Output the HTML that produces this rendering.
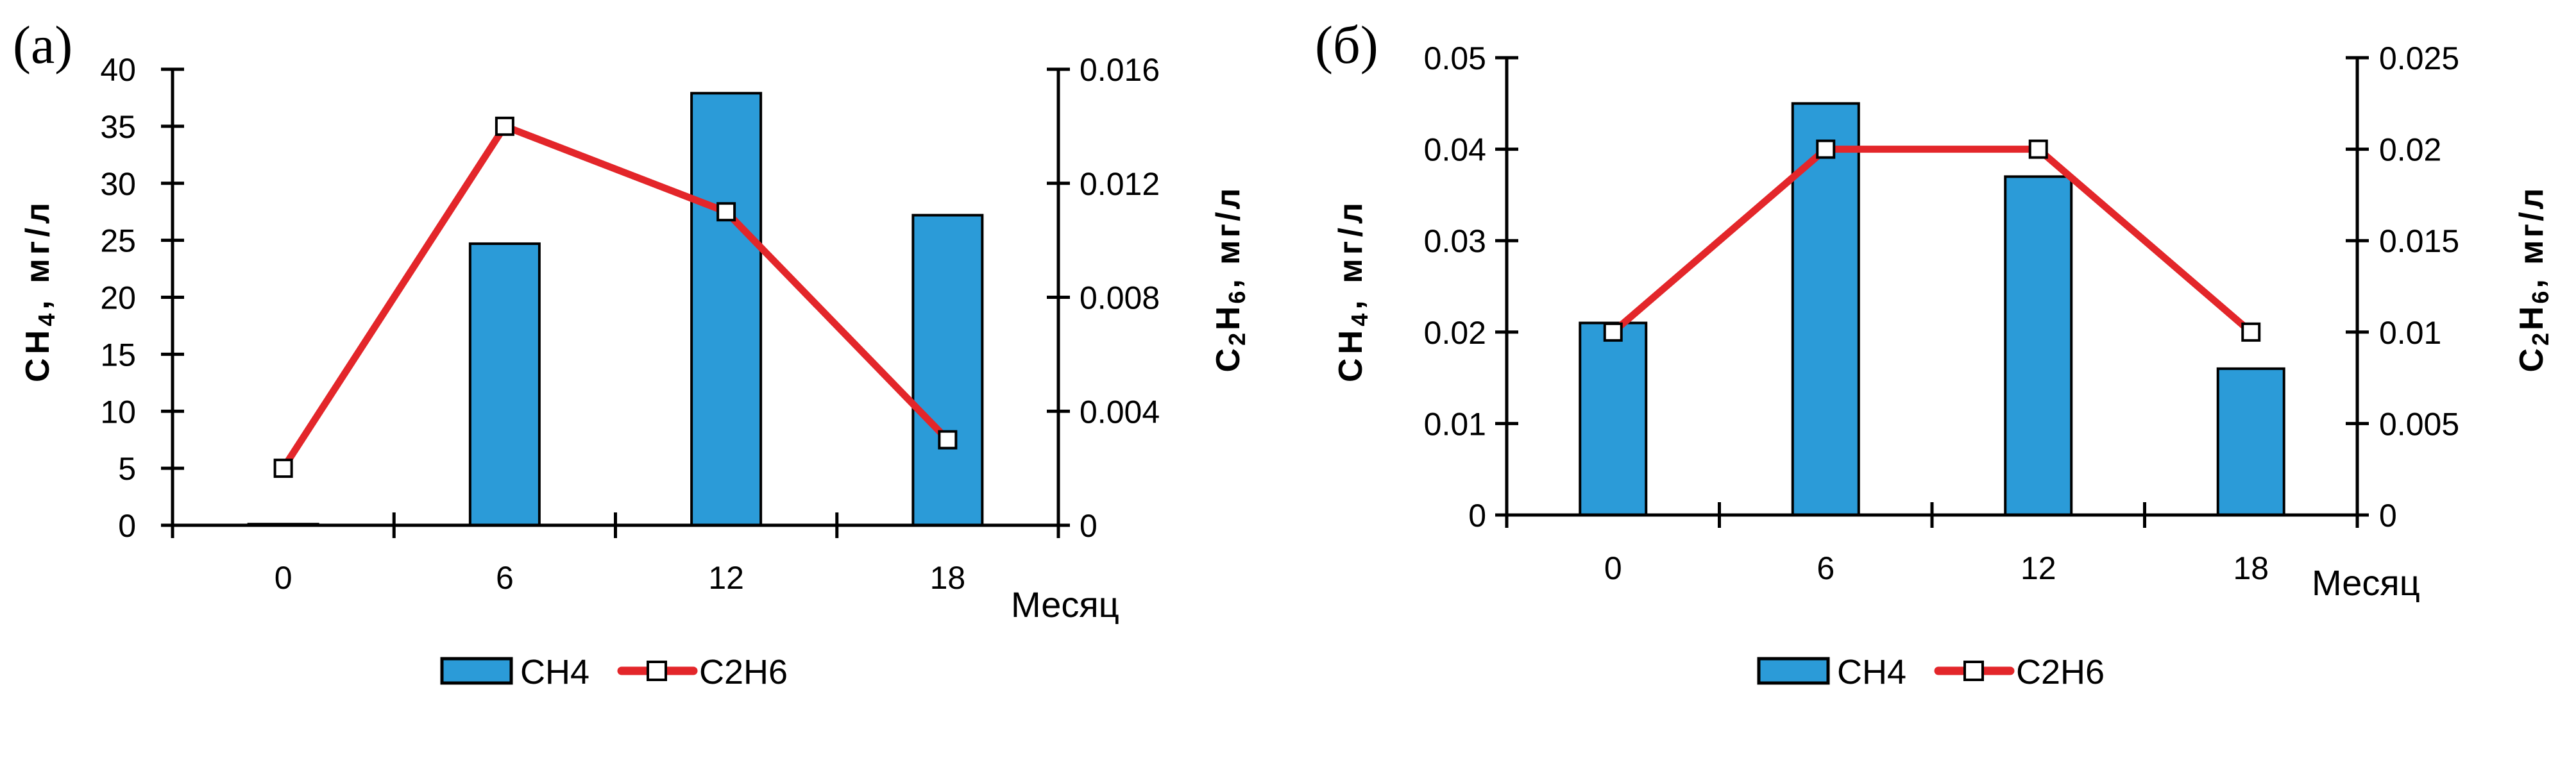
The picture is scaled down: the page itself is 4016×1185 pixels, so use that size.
<!DOCTYPE html>
<html><head><meta charset="utf-8">
<style>
html,body{margin:0;padding:0;background:#fff;}
svg{display:block;}
text{font-family:"Liberation Sans",sans-serif;fill:#000;}
</style></head>
<body>
<svg id="chart" width="4016" height="1185" viewBox="0 0 4016 1185" xmlns="http://www.w3.org/2000/svg"></svg>
<script>
const categories = ["0","6","12","18"];
const ch4A = [0.1, 24.7, 37.9, 27.2];
const c2h6A = [0.002, 0.014, 0.011, 0.003];
const leftTicksA = ["0","5","10","15","20","25","30","35","40"];
const rightTicksA = ["0","0.004","0.008","0.012","0.016"];
const ch4B = [0.021, 0.045, 0.037, 0.016];
const c2h6B = [0.01, 0.02, 0.02, 0.01];
const leftTicksB = ["0","0.01","0.02","0.03","0.04","0.05"];
const rightTicksB = ["0","0.005","0.01","0.015","0.02","0.025"];

const NS = "http://www.w3.org/2000/svg";
const svg = document.getElementById("chart");
function mk(tag, attrs, parent, txt){
  const e = document.createElementNS(NS, tag);
  for (const k in attrs) e.setAttribute(k, attrs[k]);
  if (txt !== undefined) e.textContent = txt;
  (parent||svg).appendChild(e);
  return e;
}

function drawChart(cfg){
  const g = mk("g", {});
  
  
  const {x0,x1,yTop,yBot} = cfg;
  const n = categories.length;
  const band = (x1-x0)/n;
  const xc = i => x0 + band*(i+0.5);
  const yL = v => yBot - (v/cfg.lMax)*(yBot-yTop);
  const yR = v => yBot - (v/cfg.rMax)*(yBot-yTop);

  const pl = mk("text",{x:cfg.labelX,y:98,"font-size":84,style:"font-family:'Liberation Serif',serif"},g,cfg.label);
  
  

  cfg.bars.forEach((v,i)=>{
    const h = yBot - yL(v);
    const b = mk("rect",{x:xc(i)-cfg.barW/2,y:yL(v),width:cfg.barW,height:Math.max(h,1.5),fill:"#2b9bd8",stroke:"#000","stroke-width":4},g);
    
    
  });

  const ax = mk("g",{stroke:"#000","stroke-width":5,fill:"none"},g);
  
  
  mk("line",{x1:x0,y1:yTop,x2:x0,y2:yBot},ax);
  mk("line",{x1:x1,y1:yTop,x2:x1,y2:yBot},ax);
  mk("line",{x1:x0,y1:yBot,x2:x1,y2:yBot},ax);
  for(let i=0;i<=n;i++){
    const x = x0+band*i;
    mk("line",{x1:x,y1:yBot-20,x2:x,y2:yBot+20},ax);
  }
  const lt = cfg.leftTicks;
  lt.forEach((t,i)=>{
    const y = yL(cfg.lMax*i/(lt.length-1));
    mk("line",{x1:x0-18,y1:y,x2:x0+18,y2:y},ax);
    const tx = mk("text",{x:cfg.lLabelX,y:y+18,"font-size":50,"text-anchor":"end"},g,t);
    
    
  });
  const rt = cfg.rightTicks;
  rt.forEach((t,i)=>{
    const y = yR(cfg.rMax*i/(rt.length-1));
    mk("line",{x1:x1-18,y1:y,x2:x1+18,y2:y},ax);
    const tx = mk("text",{x:cfg.rLabelX,y:y+18,"font-size":50,"text-anchor":"start"},g,t);
    
    
  });
  categories.forEach((c,i)=>{
    const tx = mk("text",{x:xc(i),y:cfg.catY,"font-size":50,"text-anchor":"middle"},g,c);
    
    
  });
  const mx = mk("text",{x:cfg.monthX,y:cfg.monthY,"font-size":56},g,"Месяц");
  
  

  const vals = cfg.line;
  const pts = vals.map((v,i)=>xc(i)+","+yR(v)).join(" ");
  const pl2 = mk("polyline",{points:pts,fill:"none",stroke:"#e3262a","stroke-width":11,"stroke-linejoin":"round"},g);
  
  
  vals.forEach((v,i)=>{
    const m = mk("rect",{x:xc(i)-13,y:yR(v)-13,width:26,height:26,fill:"#fff",stroke:"#000","stroke-width":4},g);
    
    
  });

  const t1 = mk("text",{transform:`translate(${cfg.lTitleX},456) rotate(-90)`,"font-size":52,"font-weight":"bold","text-anchor":"middle",textLength:280,lengthAdjust:"spacing"},g);
  
  
  t1.innerHTML = 'CH<tspan font-size="36" dy="9">4</tspan><tspan dy="-9">, мг/л</tspan>';
  const t2 = mk("text",{transform:`translate(${cfg.rTitleX},437) rotate(-90)`,"font-size":52,"font-weight":"bold","text-anchor":"middle",textLength:287,lengthAdjust:"spacing"},g);
  
  
  t2.innerHTML = 'C<tspan font-size="36" dy="9">2</tspan><tspan dy="-9">H</tspan><tspan font-size="36" dy="9">6</tspan><tspan dy="-9">, мг/л</tspan>';

  const lg = mk("g",{},g);
  
  
  const L = cfg.legX, ly = 1046;
  const lb = mk("rect",{x:L,y:ly-19,width:108,height:38,fill:"#2b9bd8",stroke:"#000","stroke-width":5},lg);
  
  
  const le1 = mk("text",{x:L+122,y:ly+20,"font-size":54},lg,"CH4");
  
  
  const ll = mk("line",{x1:L+280,y1:ly,x2:L+392,y2:ly,stroke:"#e3262a","stroke-width":13,"stroke-linecap":"round"},lg);
  
  
  mk("rect",{x:L+321,y:ly-14,width:28,height:28,fill:"#fff",stroke:"#000","stroke-width":4},lg);
  const le2 = mk("text",{x:L+401,y:ly+20,"font-size":54},lg,"C2H6");
  
  
}

drawChart({name:"chart-a",label:"(a)",labelX:20,x0:269,x1:1650,yTop:108,yBot:819,lMax:40,rMax:0.016,
  bars:ch4A,line:c2h6A,leftTicks:leftTicksA,rightTicks:rightTicksA,barW:108,
  lLabelX:212,rLabelX:1683,catY:918,monthX:1576,monthY:962,lTitleX:76,rTitleX:1932,legX:689});
drawChart({name:"chart-b",label:"(б)",labelX:2050,x0:2349,x1:3675,yTop:90,yBot:803,lMax:0.05,rMax:0.025,
  bars:ch4B,line:c2h6B,leftTicks:leftTicksB,rightTicks:rightTicksB,barW:103,
  lLabelX:2317,rLabelX:3709,catY:903,monthX:3604,monthY:928,lTitleX:2123,rTitleX:3964,legX:2742});
</script>
</body></html>
